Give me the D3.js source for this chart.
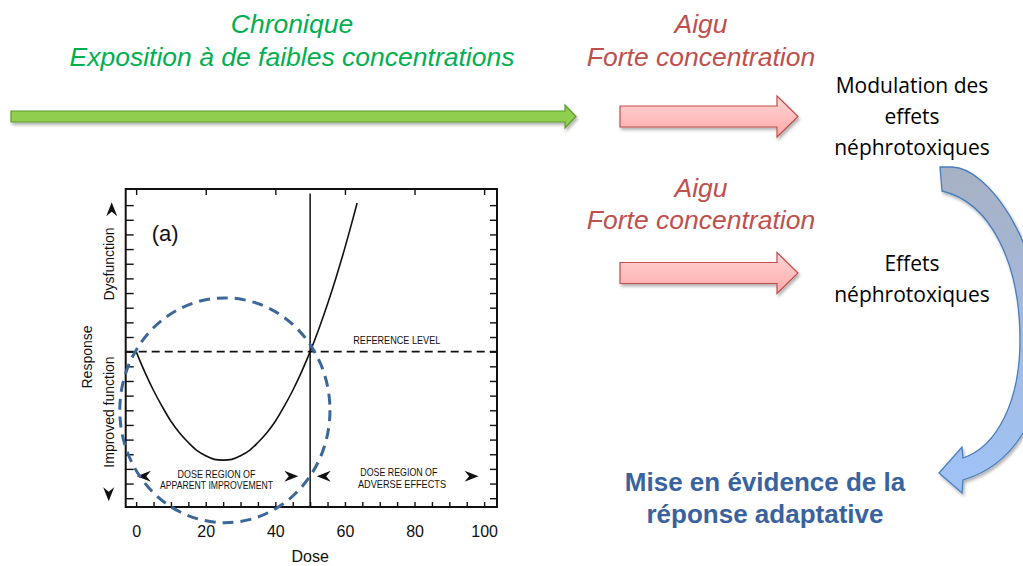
<!DOCTYPE html>
<html>
<head>
<meta charset="utf-8">
<script src="https://cdn.jsdelivr.net/npm/d3@7"></script>
<style>
  body { margin: 0; background: #fff; }
  svg { display: block; }
</style>
</head>
<body>
<div id="container"></div>
<script>
// Dose-response curve, response relative to the reference level
const doses = [0, 2.5, 5, 7.5, 10, 12.5, 15, 17.5, 20, 22.5, 25, 27.5, 30, 32.5, 35,
  37.5, 40, 42.5, 45, 47.5, 50, 52.5, 55, 57.5, 60, 62.5, 63.5];
const responses = [0, -1.4, -2.65, -3.75, -4.75, -5.55, -6.2, -6.75, -7.1, -7.35, -7.4,
  -7.35, -7.1, -6.75, -6.2, -5.55, -4.75, -3.75, -2.65, -1.4, 0, 1.55, 3.25, 5.1, 7.1, 9.25, 10.15];

const referenceLevel = 0;
const thresholdDose = 50;
const xTickLabels = [0, 20, 40, 60, 80, 100];
const xMinorTicks = d3.range(0, 101, 5);
const yTicks = d3.range(-10, 11, 1);

// highlighted region (dashed ellipse): centre and radii in data units
const highlightCenter = [25.5, -4];
const highlightRadius = [30.2, 7.67];

// texts
const topLeftLines = ["Chronique", "Exposition à de faibles concentrations"];
const acuteLines = ["Aigu", "Forte concentration"];
const effect1Lines = ["Modulation des", "effets", "néphrotoxiques"];
const effect2Lines = ["Effets", "néphrotoxiques"];
const conclusionLines = ["Mise en évidence de la", "réponse adaptative"];

const svg = d3
  .select("#container")
  .append("svg")
  .attr("width", 1023)
  .attr("height", 566);

const defs = svg.append("defs");

const shadow = defs.append("filter").attr("id", "shadow")
  .attr("x", "-10%").attr("y", "-30%").attr("width", "130%").attr("height", "180%");
shadow.append("feDropShadow")
  .attr("dx", 1.5).attr("dy", 2.5).attr("stdDeviation", 1.5)
  .attr("flood-color", "#000").attr("flood-opacity", 0.3);

const pinkGrad = defs.append("linearGradient").attr("id", "pink")
  .attr("x1", 0).attr("y1", 0).attr("x2", 0).attr("y2", 1);
pinkGrad.append("stop").attr("offset", "0%").attr("stop-color", "#ffd6d6");
pinkGrad.append("stop").attr("offset", "100%").attr("stop-color", "#ffa9a9");

const blueGrad = defs.append("linearGradient").attr("id", "blue")
  .attr("gradientUnits", "userSpaceOnUse")
  .attr("x1", 0).attr("y1", 167).attr("x2", 0).attr("y2", 492);
blueGrad.append("stop").attr("offset", "0%").attr("stop-color", "#a7b1c4");
blueGrad.append("stop").attr("offset", "100%").attr("stop-color", "#9fc3f7");

// ---------- top captions ----------
function lines(arr, x, y0, step, cls) {
  arr.forEach((t, i) => {
    svg.append("text")
      .attr("class", cls)
      .attr("x", x)
      .attr("y", y0 + i * step)
      .attr("text-anchor", "middle")
      .text(t);
  });
}

const italicFont = "italic 26.5px 'Liberation Sans', Arial, sans-serif";

lines(topLeftLines, 292, 33, 33, "green");
lines(acuteLines, 701, 33, 33, "red1");
lines(acuteLines, 701, 197, 32, "red2");
svg.selectAll(".green").style("font", italicFont).attr("fill", "#00b050");
svg.selectAll(".red1, .red2").style("font", italicFont).attr("fill", "#c0504d");

lines(effect1Lines, 912, 93, 31, "eff1");
lines(effect2Lines, 912, 271, 31, "eff2");
svg.selectAll(".eff1, .eff2")
  .style("font", "21px 'Open Sans', sans-serif").attr("fill", "#000");

lines(conclusionLines, 765, 491, 32, "concl");
svg.selectAll(".concl")
  .style("font", "bold 26px 'Liberation Sans', Arial, sans-serif").attr("fill", "#38639e");

// ---------- straight block arrows ----------
function blockArrow(x0, x1, xHead, cy, shaftH, headH, fill, stroke) {
  const p = [
    [x0, cy - shaftH / 2], [xHead, cy - shaftH / 2], [xHead, cy - headH / 2],
    [x1, cy], [xHead, cy + headH / 2], [xHead, cy + shaftH / 2], [x0, cy + shaftH / 2]
  ];
  svg.append("path")
    .attr("d", d3.line()(p) + "Z")
    .attr("fill", fill)
    .attr("stroke", stroke)
    .attr("stroke-width", 1.2)
    .attr("filter", "url(#shadow)");
}

blockArrow(11, 576, 565, 116.5, 11, 23, "#8fce4f", "#5f9a2c");
blockArrow(620, 798, 777, 116.5, 21, 41, "url(#pink)", "#c0504d");
blockArrow(620, 798, 777, 273, 21, 41, "url(#pink)", "#c0504d");

// ---------- curved arrow on the right ----------
svg.append("path")
  .attr("d",
    "M940,167 L952,167 C988,168 1040,240 1045,340 " +
    "C1046,420 1010,466 963,480 L962,493 L939,473 L962,447 L963,458 " +
    "C998,446 1020,400 1020,340 C1020,262 990,202 942,191 Z")
  .attr("fill", "url(#blue)")
  .attr("stroke", "#4a7ebb")
  .attr("stroke-width", 1.3)
  .attr("filter", "url(#shadow)");

// ---------- dose-response chart ----------
const frame = { left: 125.7, right: 497, top: 189, bottom: 507 };

const x = d3.scaleLinear().domain([-3, 103.7]).range([frame.left, frame.right]);
const y = d3.scaleLinear().domain([-10.6, 11.1]).range([frame.bottom, frame.top]);

const chart = svg.append("g").attr("class", "chart");
const ink = "#111";
const chartFont = "'Liberation Sans', Arial, sans-serif";

// axes (ticks point inwards)
const bottomAxis = chart.append("g")
  .attr("transform", `translate(0,${frame.bottom})`)
  .call(d3.axisBottom(x).tickValues(xMinorTicks).tickSizeInner(-5).tickSizeOuter(0)
    .tickPadding(19).tickFormat((d) => (xTickLabels.includes(d) ? d : "")));
chart.append("g")
  .attr("transform", `translate(0,${frame.top})`)
  .call(d3.axisTop(x).tickValues(xTickLabels).tickSizeInner(-6).tickSizeOuter(0).tickFormat(""));
chart.append("g")
  .attr("transform", `translate(${frame.left},0)`)
  .call(d3.axisLeft(y).tickValues(yTicks).tickSizeInner(-8).tickSizeOuter(0).tickFormat(""));
chart.append("g")
  .attr("transform", `translate(${frame.right},0)`)
  .call(d3.axisRight(y).tickValues(yTicks).tickSizeInner(-7).tickSizeOuter(0).tickFormat(""));

chart.selectAll(".domain").remove();
chart.selectAll(".tick line").attr("stroke", ink).attr("stroke-width", 1.4);
bottomAxis.selectAll("text")
  .style("font", `16px ${chartFont}`).attr("fill", ink);

// frame
chart.append("rect")
  .attr("x", frame.left).attr("y", frame.top)
  .attr("width", frame.right - frame.left)
  .attr("height", frame.bottom - frame.top)
  .attr("fill", "none").attr("stroke", ink).attr("stroke-width", 2);

// reference level
chart.append("line")
  .attr("x1", frame.left).attr("x2", frame.right)
  .attr("y1", y(referenceLevel)).attr("y2", y(referenceLevel))
  .attr("stroke", ink).attr("stroke-width", 1.6)
  .attr("stroke-dasharray", "8,5");

// threshold dose line
chart.append("line")
  .attr("x1", x(thresholdDose)).attr("x2", x(thresholdDose))
  .attr("y1", y(10.8)).attr("y2", frame.bottom)
  .attr("stroke", ink).attr("stroke-width", 1.5);

// response curve
const curveData = doses.map((d, i) => ({ dose: d, response: responses[i] }));
chart.append("path")
  .datum(curveData)
  .attr("fill", "none")
  .attr("stroke", ink)
  .attr("stroke-width", 1.6)
  .attr("d", d3.line()
    .x((d) => x(d.dose))
    .y((d) => y(d.response))
    .curve(d3.curveCatmullRom));

// chart annotations
chart.append("text")
  .attr("x", x(4.5)).attr("y", y(7.55))
  .style("font", `22px ${chartFont}`).attr("fill", ink)
  .text("(a)");

function smallCaps(t, dose, resp, len) {
  chart.append("text")
    .attr("x", x(dose)).attr("y", y(resp))
    .attr("text-anchor", "middle")
    .attr("textLength", len).attr("lengthAdjust", "spacingAndGlyphs")
    .style("font", `10.5px ${chartFont}`).attr("fill", ink)
    .text(t);
}
smallCaps("REFERENCE LEVEL", 74.9, 0.52, 87);
smallCaps("DOSE REGION OF", 23.1, -8.6, 78);
smallCaps("APPARENT IMPROVEMENT", 23.1, -9.37, 113);
smallCaps("DOSE REGION OF", 75.5, -8.48, 77);
smallCaps("ADVERSE EFFECTS", 76.4, -9.3, 88);

// stealth arrowheads (tip at origin, pointing right)
const head = "M0,0 L-14,-5.5 L-9.5,0 L-14,5.5 Z";
function arrowHead(px, py, angle) {
  chart.append("path")
    .attr("d", head)
    .attr("transform", `translate(${px},${py}) rotate(${angle})`)
    .attr("fill", ink);
}
arrowHead(x(0.2), y(-8.5), 180);
arrowHead(x(46.6), y(-8.5), 0);
arrowHead(x(51.9), y(-8.5), 180);
arrowHead(x(98.4), y(-8.5), 0);
arrowHead(frame.left - 14, y(10.2), -90);
arrowHead(frame.left - 17, y(-10.2), 90);

// y-axis labels
function vText(t, px, py, size) {
  chart.append("text")
    .attr("transform", `translate(${px},${py}) rotate(-90)`)
    .attr("text-anchor", "middle")
    .attr("dy", "0.35em")
    .style("font", `${size}px ${chartFont}`).attr("fill", ink)
    .text(t);
}
vText("Response", 87.5, 357, 14);
vText("Dysfunction", 109, 264, 14);
vText("Improved function", 109, 412, 14);

// x-axis title
chart.append("text")
  .attr("x", x(50)).attr("y", 562)
  .attr("text-anchor", "middle")
  .style("font", `16px ${chartFont}`).attr("fill", ink)
  .text("Dose");

// dashed highlight ellipse
chart.append("ellipse")
  .attr("cx", x(highlightCenter[0]))
  .attr("cy", y(highlightCenter[1]))
  .attr("rx", x(highlightRadius[0]) - x(0))
  .attr("ry", y(0) - y(highlightRadius[1]))
  .attr("fill", "none")
  .attr("stroke", "#3d6699")
  .attr("stroke-width", 3)
  .attr("stroke-dasharray", "11,7");
</script>
</body>
</html>
